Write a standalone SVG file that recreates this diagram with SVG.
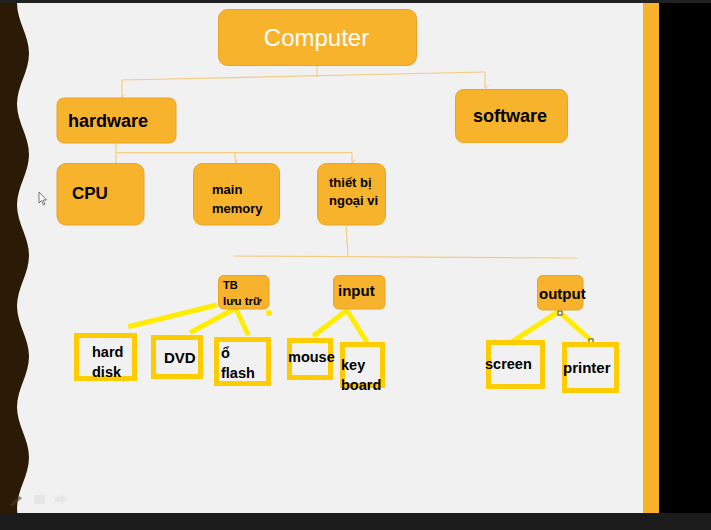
<svg xmlns="http://www.w3.org/2000/svg" width="711" height="530" viewBox="0 0 711 530">
<defs>
<style>
.nd{fill:#f7b32b;stroke:#e9a426;stroke-width:1}
.t{font-family:"Liberation Sans",Arial,sans-serif;font-weight:bold;fill:#000}
.thin{fill:none;stroke:#f2cd84;stroke-width:1.2}
.yl{stroke:#ffec00;stroke-width:5;stroke-linecap:butt}
.box{fill:none;stroke:#ffcc00;stroke-width:5}
.icon{fill:#dcdcdc;opacity:0.8}
</style>
<marker id="arr" viewBox="0 0 10 10" refX="5" refY="9" markerWidth="6" markerHeight="6" orient="auto-start-reverse" markerUnits="userSpaceOnUse">
<path d="M1,3 L5,9 L9,3" fill="none" stroke="#f0c46a" stroke-width="1.3"/>
</marker>
</defs>
<rect x="0" y="0" width="711" height="530" fill="#f1f1f1"/>
<rect x="643" y="0" width="16" height="530" fill="#f8b22a"/>
<rect x="659" y="0" width="52" height="530" fill="#000"/>
<path d="M0,0 L17,0 L17,3 C17,21 29,35.5 29,53.5 S17,86 17,104 S29,136.5 29,154.5 S17,187 17,205 S29,237.5 29,255.5 S17,288 17,306 S29,338.5 29,356.5 S17,389 17,407 S29,439.5 29,457.5 S17,490 17,508 S29,540 29,558 L0,558 Z" fill="#2a1a06"/>
<rect x="0" y="0" width="711" height="3" fill="#222"/>
<rect x="0" y="513" width="711" height="17" fill="#1b1b1b"/>

<g id="connectors">
<polyline class="thin" points="317,65 317,77"/>
<line class="thin" x1="122" y1="80" x2="485" y2="72"/>
<line class="thin" x1="122" y1="80" x2="122" y2="97" marker-end="url(#arr)"/>
<line class="thin" x1="485" y1="72" x2="485" y2="88" marker-end="url(#arr)"/>
<line class="thin" x1="116" y1="143" x2="116" y2="163"/>
<line class="thin" x1="116" y1="152.7" x2="352" y2="152.7"/>
<line class="thin" x1="235" y1="152.7" x2="235" y2="162" marker-end="url(#arr)"/>
<line class="thin" x1="352" y1="152.7" x2="352" y2="162" marker-end="url(#arr)"/>
<line class="thin" x1="346" y1="226" x2="348" y2="256"/>
<line class="thin" x1="233" y1="256" x2="577" y2="258"/>
<line class="yl" x1="216.7" y1="305" x2="128.3" y2="326.7"/>
<line class="yl" x1="238.3" y1="306.7" x2="190" y2="332.7"/>
<line class="yl" x1="235" y1="306.7" x2="248.3" y2="335"/>
<circle cx="269" cy="313" r="3" fill="#ffec00"/>
<line class="yl" x1="347.3" y1="310" x2="313.3" y2="336"/>
<line class="yl" x1="346.7" y1="310" x2="367.3" y2="342.7"/>
<line class="yl" x1="560" y1="310.7" x2="510.7" y2="342.7"/>
<line class="yl" x1="560" y1="312.7" x2="591.3" y2="340.7"/>
<rect x="558" y="311" width="4" height="4" fill="#fff" stroke="#444" stroke-width="1"/>
<rect x="589" y="339" width="4" height="4" fill="#fff" stroke="#444" stroke-width="1"/>
</g>

<g id="computer">
<rect class="nd" x="218.5" y="9.5" width="198" height="56" rx="9"/>
<text x="316.5" y="46" text-anchor="middle" font-family="'Liberation Sans',Arial,sans-serif" font-size="24" fill="#fff">Computer</text>
</g>
<g id="hardware">
<rect class="nd" x="57" y="98" width="119" height="45" rx="7"/>
<text class="t" x="68" y="127" font-size="18">hardware</text>
</g>
<g id="software">
<rect class="nd" x="455.5" y="89.5" width="112" height="53" rx="8"/>
<text class="t" x="473" y="122" font-size="18">software</text>
</g>
<g id="cpu">
<rect class="nd" x="57" y="163.5" width="87" height="61.5" rx="9"/>
<text class="t" x="72" y="199" font-size="17">CPU</text>
</g>
<g id="main-memory">
<rect class="nd" x="193.5" y="163.5" width="86" height="61.5" rx="9"/>
<text class="t" x="212" y="194" font-size="13">main</text>
<text class="t" x="212" y="213" font-size="13">memory</text>
</g>
<g id="thiet-bi">
<rect class="nd" x="317.5" y="163.5" width="68" height="61.5" rx="9"/>
<text class="t" x="329" y="187" font-size="13">thiết bị</text>
<text class="t" x="329" y="205" font-size="13">ngoại vi</text>
</g>
<g id="tb-luu-tru">
<rect class="nd" x="218.5" y="275.5" width="50.5" height="33.5" rx="5"/>
<text class="t" x="223" y="289" font-size="11">TB</text>
<text class="t" x="223" y="305" font-size="11.5">lưu trữ</text>
</g>
<g id="input">
<rect class="nd" x="333.5" y="275.5" width="51.5" height="33.5" rx="5"/>
<text class="t" x="338" y="296" font-size="15">input</text>
</g>
<g id="output">
<rect class="nd" x="537.5" y="275.5" width="45.5" height="34.5" rx="5"/>
<text class="t" x="539" y="299" font-size="15">output</text>
</g>
<g id="hard-disk">
<rect class="box" x="76.5" y="335.5" width="58" height="43"/>
<text class="t" x="92" y="357" font-size="14.5">hard</text>
<text class="t" x="92" y="377" font-size="14.5">disk</text>
</g>
<g id="dvd">
<rect class="box" x="153.5" y="337.5" width="47" height="39"/>
<text class="t" x="164" y="363" font-size="15">DVD</text>
</g>
<g id="o-flash">
<rect class="box" x="216.5" y="339.5" width="52" height="44"/>
<text class="t" x="221" y="358" font-size="14.5">ổ</text>
<text class="t" x="221" y="378" font-size="14.5">flash</text>
</g>
<g id="mouse">
<rect class="box" x="289.5" y="340.5" width="41" height="37"/>
<text class="t" x="288" y="362" font-size="14.5">mouse</text>
</g>
<g id="keyboard">
<rect class="box" x="342.5" y="344.5" width="40" height="41"/>
<text class="t" x="341" y="370" font-size="14.5">key</text>
<text class="t" x="341" y="390" font-size="14.5">board</text>
</g>
<g id="screen">
<rect class="box" x="488.5" y="342.5" width="54" height="44"/>
<text class="t" x="485" y="369" font-size="14.5">screen</text>
</g>
<g id="printer">
<rect class="box" x="564.5" y="344.5" width="52" height="46"/>
<text class="t" x="563" y="373" font-size="15">printer</text>
</g>

<polygon points="39,192 39,203 41.5,200.5 43.5,205 45,204.3 43,200 46.5,200" fill="#fff" stroke="#555" stroke-width="0.8"/>
<g opacity="0.6">
<path d="M10,505 L19,496 L22,498 L13,506 Z" fill="#4a3a28"/>
<rect class="icon" x="34" y="495" width="11" height="9"/>
<path class="icon" d="M55,497 L61,497 L61,494 L67,499.5 L61,505 L61,502 L55,502 Z"/>
</g>
</svg>
